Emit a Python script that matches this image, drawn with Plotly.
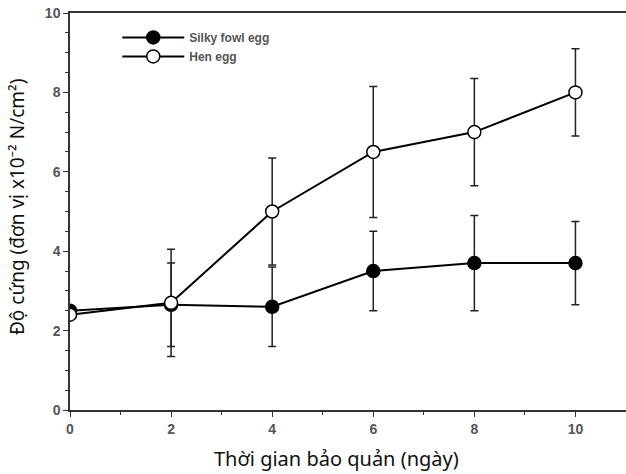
import plotly.graph_objects as go

days = [0, 2, 4, 6, 8, 10]
silky = [2.5, 2.65, 2.6, 3.5, 3.7, 3.7]
silky_err = [0.0, 1.05, 1.0, 1.0, 1.2, 1.05]
hen = [2.4, 2.7, 5.0, 6.5, 7.0, 8.0]
hen_err = [0.0, 1.35, 1.35, 1.65, 1.35, 1.1]

fig = go.Figure()
fig.add_trace(go.Scatter(
    x=days, y=silky, name="Silky fowl egg", mode="lines+markers",
    line=dict(color="black", width=2),
    marker=dict(symbol="circle", size=13, color="black", line=dict(color="black", width=1.5)),
    error_y=dict(type="data", array=silky_err, color="#222", thickness=1.5, width=4),
))
fig.add_trace(go.Scatter(
    x=days, y=hen, name="Hen egg", mode="lines+markers",
    line=dict(color="black", width=2),
    marker=dict(symbol="circle", size=13, color="white", line=dict(color="black", width=1.5)),
    error_y=dict(type="data", array=hen_err, color="#222", thickness=1.5, width=4),
))

tickfont = dict(family="Liberation Sans", size=14, color="#555", weight="bold")
fig.update_layout(
    width=626, height=474,
    margin=dict(l=70, r=0, t=13, b=64),
    plot_bgcolor="white", paper_bgcolor="white",
    showlegend=True,
    legend=dict(x=0.085, y=0.975, xanchor="left", yanchor="top",
                font=dict(family="Liberation Sans", size=12, color="#555", weight="bold"),
                itemwidth=62, tracegroupgap=0, bgcolor="rgba(0,0,0,0)"),
    xaxis=dict(range=[0, 11], tickvals=[0, 2, 4, 6, 8, 10], showgrid=False, zeroline=False,
               showline=True, mirror=True, linecolor="#333", linewidth=1.5,
               ticks="outside", ticklen=5, tickcolor="#333", tickfont=tickfont,
               minor=dict(dtick=1, ticks="outside", ticklen=3, tickcolor="#333")),
    yaxis=dict(range=[0, 10], tickvals=[0, 2, 4, 6, 8, 10], showgrid=False, zeroline=False,
               showline=True, linecolor="#333", linewidth=1.5,
               ticks="outside", ticklen=5, tickcolor="#333", tickfont=tickfont,
               minor=dict(dtick=0.5, ticks="outside", ticklen=3, tickcolor="#333")),
    annotations=[
        dict(text="Thời gian bảo quản (ngày)", xref="paper", yref="paper",
             x=(336 - 70) / 556, y=-(458 - 410) / 397, xanchor="center", yanchor="middle",
             showarrow=False, font=dict(family="Noto Sans", size=20, color="#111")),
        dict(text="Độ cứng (đơn vị x10⁻² N/cm²)", xref="paper", yref="paper",
             x=-(70 - 17) / 556, y=(410 - 207) / 397, xanchor="center", yanchor="middle",
             textangle=-90, showarrow=False, font=dict(family="Noto Sans", size=19, color="#111")),
    ],
)
fig.write_html("out.html")
